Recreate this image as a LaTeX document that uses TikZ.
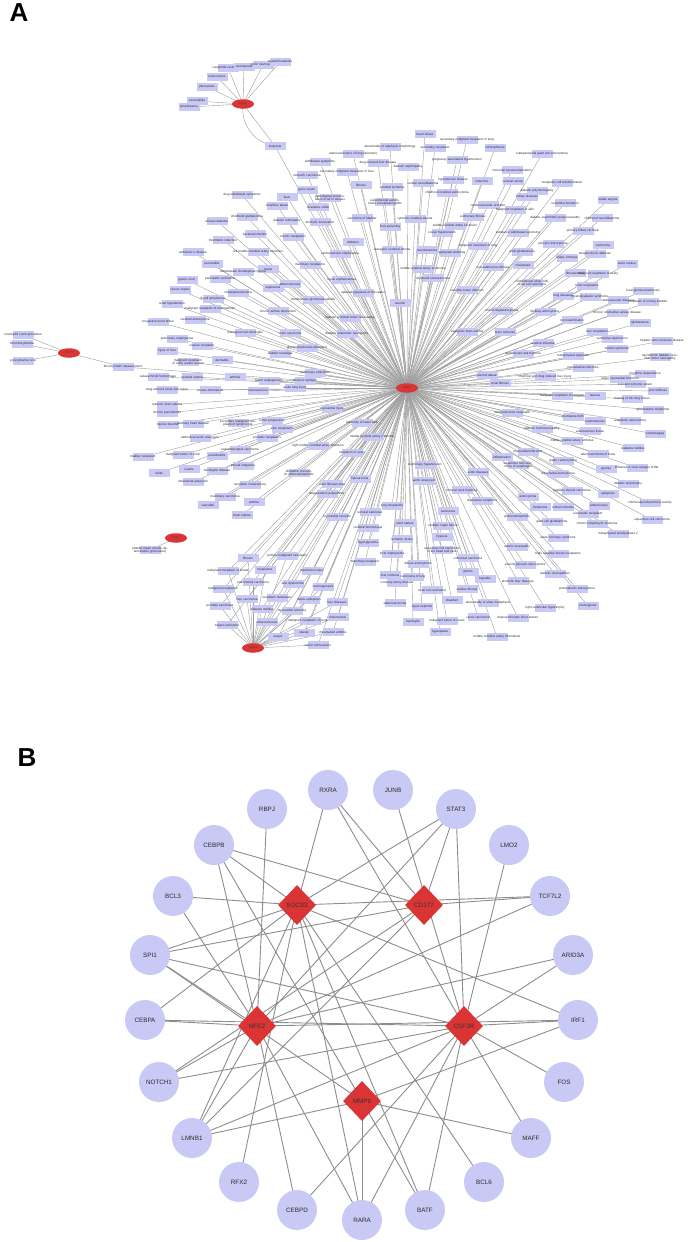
\documentclass[tikz,border=0pt]{standalone}
\usepackage{fontspec}
\setmainfont{Liberation Sans}
\usetikzlibrary{shapes.geometric,backgrounds}

\definecolor{nodefill}{RGB}{201,201,246}
\definecolor{hubred}{RGB}{218,52,52}
\definecolor{edgegray}{RGB}{140,140,140}
\definecolor{labelink}{RGB}{40,40,40}

\newcommand\mmplist{
  425/134/{heart failure}, 467/140/{secondary malignant neoplasm of lung}, 390/147/{abnormality of epiphysis morphology},
  435/148/{secondary neoplasm}, 353/154/{adenocarcinoma of lung (disorder)}, 495/148/{schizophrenia},
  378/163/{drug-induced liver disease}, 457/160/{pregnancy associated hypertension}, 320/162/{withdrawal symptoms},
  408/167/{diabetic nephropathy}, 347/172/{secondary malignant neoplasm of liver}, 307/175/{stomach carcinoma},
  361/185/{fibrosis}, 392/187/{cerebral ischemia}, 423/183/{central neuroblastoma}, 453/180/{hypertensive disease},
  482/181/{infarction}, 307/190/{genu varum}, 447/193/{childhood cerebral astrocytoma}, 242/195/{drug withdrawal symptoms},
  287/197/{ileus}, 330/198/{pathological accumulation of air in tissues},
  542/154/{subependymal giant cell astrocytoma}, 512/170/{choroidal neovascularization}, 513/181/{cervical cancer},
  562/183/{neoplastic cell transformation}, 537/191/{diabetic polyneuropathy}, 527/197/{kidney diseases},
  565/203/{neointima formation}, 608/200/{stable angina}, 488/205/{cerebrovascular accident},
  515/210/{malignant neoplasm of skin}, 473/217/{pulmonary fibrosis}, 555/218/{diabetic asymmetric polyneuropathy},
  602/218/{childhood neuroblastoma}, 455/226/{middle cerebral artery occlusion}, 583/231/{primary biliary cirrhosis},
  442/233/{ocular hypertension}, 518/233/{substance withdrawal syndrome}, 603/245/{carcinoma},
  553/244/{pilocytic astrocytoma}, 478/246/{malignant neoplasm of lung}, 595/254/{streptozotocin diabetes},
  450/253/{metaphyseal widening}, 522/252/{adult glioblastoma}, 567/258/{biliary cirrhosis}, 523/265/{cholestasis},
  627/264/{aortic rupture}, 493/267/{oral submucous fibrosis}, 423/269/{middle cerebral artery syndrome},
  433/278/{childhood osteosarcoma}, 575/273/{fibrosarcoma}, 598/274/{malignant neoplasm of ovary},
  532/283/{conventional (clear cell) renal cell carcinoma}, 587/286/{bone neoplasms}, 643/291/{focal glomerulosclerosis},
  467/290/{varicella zoster infection}, 563/296/{lung diseases}, 590/297/{myelodysplastic syndrome},
  618/300/{cardiovascular diseases}, 648/302/{neoplasm of urinary bladder}, 400/303/{neuritis},
  502/311/{mixed oligoastrocytoma}, 545/312/{fibrillary astrocytoma}, 617/313/{chronic obstructive airway disease},
  640/323/{glioblastoma}, 572/320/{microcalcification}, 597/332/{liver neoplasms}, 505/332/{brain ischemia},
  467/332/{vasogenic brain edema}, 662/341/{hepatic veno-occlusive disease}, 612/339/{ventricular dysfunction},
  543/343/{cerebral infarction}, 617/349/{marfan syndrome}, 523/354/{gemistocytic astrocytoma},
  573/356/{metaphyseal dysplasia}, 660/357/{asymmetric diabetic proximal motor neuropathy}, 583/368/{mycoplasma infections},
  385/202/{experimental autoimmune encephalomyelitis}, 362/218/{carcinoma of bladder}, 390/227/{food poisoning},
  415/219/{cytotoxic cerebral edema}, 392/250/{vasogenic cerebral edema}, 427/250/{neuroblastoma},
  277/206/{morphine abuse}, 318/207/{ulcerative colitis}, 217/221/{alloxan diabetes}, 247/217/{childhood glioblastoma},
  287/221/{diabetic retinopathy}, 320/222/{alcoholic intoxication}, 255/234/{bacterial infection}, 293/237/{colonic neoplasms},
  223/240/{thrombotic infarction}, 193/252/{alzheimer's disease}, 258/252/{left middle cerebral artery infarction},
  212/264/{pericarditis}, 310/265/{mammary neoplasms}, 268/269/{mania}, 243/272/{extrahepatic cholangiocarcinoma},
  187/280/{gastric ulcer}, 220/279/{pancreatic carcinoma}, 273/288/{septicemia}, 290/284/{atherosclerosis},
  180/290/{severe sepsis}, 238/293/{cholangiocarcinoma}, 313/300/{membranous glomerulonephritis},
  172/304/{renal hypertension}, 213/299/{B-cell lymphomas}, 210/309/{malignant neoplasm of endometrium},
  278/311/{chronic airflow obstruction}, 158/322/{congestive heart failure}, 195/320/{cerebral astrocytoma},
  245/333/{meningococcal meningitis}, 290/333/{colon carcinoma}, 177/339/{pulmonary emphysema},
  202/346/{ovarian neoplasm}, 167/351/{injury of liver}, 307/348/{glomerulosclerosis (disorder)},
  280/354/{diabetic neuralgia}, 188/362/{malignant neoplasm of colon and/or rectum}, 222/360/{dermatitis},
  315/373/{pulmonary embolism}, 158/377/{subarachnoid hemorrhage}, 192/377/{cerebral edema}, 235/377/{arthritis},
  269/381/{tumor angiogenesis}, 305/381/{absence epilepsy}, 167/390/{drug-induced acute liver injury},
  210/390/{venous thrombosis}, 258/391/{osteosarcoma}, 295/388/{acute lung injury}, 167/405/{cytotoxic brain edema},
  340/254/{cardiovascular emphysema}, 353/242/{diabetes}, 342/280/{lupus erythematosus},
  363/293/{aplasia/hypoplasia of the radius}, 350/318/{diabetic proximal motor neuropathy},
  347/334/{diabetic autonomic neuropathy},
  167/413/{chronic periodontitis}, 168/425/{bipolar disorder}, 193/424/{coronary heart disease},
  238/423/{secondary malignant neoplasm of lymph node}, 272/421/{tumor progression}, 282/429/{skin neoplasms},
  200/438/{abdominal aortic aneurysm}, 267/438/{prostatic neoplasms}, 332/409/{myocardial injury},
  240/450/{nasopharyngeal carcinoma}, 143/457/{bladder neoplasm}, 183/455/{malignant tumor of colon},
  217/456/{periodontitis}, 318/446/{right middle cerebral artery infarction}, 159/473/{colitis}, 189/469/{uveitis},
  217/471/{huntington disease}, 243/466/{pleural empyema}, 299/473/{idiopathic crescentic glomerulonephritis},
  193/482/{intracranial aneurysm}, 250/485/{neoplasm invasiveness}, 332/484/{adult fibrosarcoma},
  327/494/{degenerative polyarthritis}, 225/497/{mammary carcinoma}, 208/505/{vasculitis}, 254/502/{asthma},
  242/515/{brain edema}, 337/517/{myocardial necrosis},
  545/377/{chemical and drug induced liver injury}, 645/374/{morphine dependence}, 620/379/{acute myocardial infarction},
  635/384/{transient ischemic attack}, 658/391/{joint stiffness}, 500/383/{renal fibrosis}, 487/375/{alcohol abuse},
  562/396/{malignant neoplasm of stomach}, 595/396/{tetanus}, 632/399/{bowing of the long bones},
  653/410/{glioblastoma multiforme}, 512/413/{malignant bone neoplasm}, 573/417/{premature birth},
  595/421/{endometriosis}, 630/421/{anaplastic astrocytoma}, 542/429/{diabetic mononeuropathy},
  590/431/{arteriovenous fistula}, 655/434/{cardiomegaly}, 572/441/{middle cerebral artery embolus},
  633/448/{diabetes mellitus}, 598/454/{adenocarcinoma of bone}, 528/452/{myocardial infarction},
  502/457/{inflammation}, 518/465/{squamous cell carcinoma of esophagus}, 563/461/{grade I astrocytoma},
  606/469/{pyemia}, 637/468/{influenza A virus subtype H1N1}, 558/474/{intracranial astrocytoma},
  628/484/{diabetic amyotrophy}, 425/465/{pulmonary hypertension}, 424/481/{aortic aneurysm},
  478/472/{aortic diseases}, 572/491/{papillary thyroid carcinoma}, 608/494/{epilepsies},
  650/503/{chemically-induced liver toxicity}, 528/497/{astrocytoma}, 462/490/{femoral neck fractures},
  482/501/{depressive symptoms}, 599/506/{arterial injury}, 540/507/{melanoma}, 563/507/{retinal ischemia},
  588/514/{pancreatic neoplasm}, 392/506/{lung neoplasms}, 448/511/{carcinoma}, 517/517/{glomerulonephritis},
  552/522/{giant cell glioblastoma}, 597/524/{chronic lymphocytic leukemia}, 652/520/{squamous cell carcinoma},
  405/523/{short stature}, 443/526/{multiple organ failure}, 618/534/{metaphyseal anadysplasia 2},
  442/537/{hypoxia}, 402/539/{ischemic stroke}, 558/538/{acute coronary syndrome},
  442/550/{squamous cell carcinoma of the head and neck}, 368/543/{hyperglycemia}, 392/554/{focal emphysema},
  517/547/{uremic neuropathy}, 558/554/{triple negative breast neoplasms}, 468/558/{colorectal carcinoma},
  365/562/{mammary neoplasm}, 418/564/{diffuse astrocytoma}, 525/565/{juvenile pilocytic astrocytoma},
  468/572/{glioma}, 555/574/{diabetic neuropathies}, 390/575/{liver cirrhosis}, 413/577/{carcinoma of lung},
  397/583/{coronary artery disease}, 485/579/{hepatitis}, 518/581/{alcoholic liver diseases},
  577/589/{protoplasmic astrocytoma}, 467/589/{cardiac fibrosis}, 432/590/{renal cell carcinoma},
  395/603/{adenocarcinoma}, 452/600/{dwarfism}, 488/603/{abnormality of ulnar metaphysis},
  422/607/{lupus nephritis}, 545/608/{right ventricular hypertrophy}, 588/606/{meningioma},
  413/622/{meningitis}, 447/621/{malignant tumor of cervix}, 478/617/{cervix carcinoma},
  518/618/{disproportionate short stature}, 440/632/{hyperplasia}, 497/637/{middle cerebral artery thrombosis},
  362/423/{deformity of lower limb}, 372/437/{middle cerebral artery infarction}, 352/453/{neoplasm of ovary},
  360/479/{liposarcoma}, 370/512/{tumoral calcinosis}, 368/528/{cerebral hemorrhage}
}

\newcommand\socslist{
  248/558/{fibrosis}, 287/556/{primary malignant neoplasm}, 228/571/{malignant neoplasm of breast},
  265/570/{neoplasms}, 312/571/{reperfusion injury}, 253/582/{endometrial carcinoma},
  223/589/{malignant neoplasms}, 293/584/{liver dysfunction}, 323/587/{carcinogenesis},
  247/599/{liver carcinoma}, 277/598/{neoplasm metastasis}, 309/600/{status epilepticus},
  337/602/{liver diseases}, 220/606/{prostate carcinoma}, 262/609/{diabetes mellitus},
  292/611/{myocardial ischemia}, 310/621/{malignant neoplasm of prostate}, 227/625/{breast carcinoma},
  267/622/{atherosclerosis}, 338/617/{tuberculosis}, 333/632/{rheumatoid arthritis},
  304/633/{obesity}, 278/637/{sepsis}, 318/645/{tumor cell invasion}
}

\newcommand\csflist{
  217/77/{leukocytosis}, 207/87/{pleocytosis}, 197/101/{neutrophilia}, 189/107/{lymphopenia},
  228/68/{congenital neutropenia}, 244/67/{neutropenia}, 263/65/{cyclic neutropenia}, 280/62/{myeloid leukemia}
}

\newcommand\cdlist{
  23/335/{eosinophil count procedure}, 22/344/{thrombocythemia}, 23/361/{polycythemia vera}
}

\begin{document}
\begin{tikzpicture}[
  x=1pt, y=-1pt,
  disease/.style={rectangle, fill=nodefill, minimum width=21pt, minimum height=8.5pt, inner sep=0pt},
  distext/.style={font=\fontsize{3.1}{3.6}\selectfont, text=labelink, align=center, text width=54pt, inner sep=0pt},
  hubA/.style={ellipse, fill=hubred, minimum width=22pt, minimum height=9.5pt, inner sep=0pt,
    font=\fontsize{2.6}{3}\selectfont, text=black!75},
  alink/.style={draw=edgegray!85, line width=0.4pt},
  gene/.style={circle, fill=nodefill, minimum size=40pt, inner sep=0pt,
    font=\fontsize{6.3}{7}\selectfont, text=labelink},
  target/.style={diamond, fill=hubred, minimum width=38pt, minimum height=40pt, inner sep=0pt,
    label={[font=\fontsize{6.3}{7}\selectfont, text=black!80]center:#1}},
  blink/.style={draw=edgegray, line width=0.9pt},
  panel/.style={font=\fontsize{26}{26}\selectfont\bfseries}
]
  \path[use as bounding box] (0,0) rectangle (690,1242);

  \node[panel] (labA) at (19,13) {A};
  \node[panel] (labB) at (27,758) {B};

  \node[hubA] (hmmp) at (407,388) {MMP9};
  \node[hubA] (hsocs) at (253,648) {SOCS3};
  \node[hubA] (hcsf) at (243,104) {CSF3R};
  \node[hubA] (hcd) at (69,353) {CD177};
  \node[hubA] (hnfe) at (176,538) {NFE2};

  \foreach \xx/\yy/\txt [count=\i] in \mmplist
    \node[disease, label={[distext]center:\txt}] (dA\i) at (\xx,\yy) {};
  \foreach \xx/\yy/\txt [count=\i] in \socslist
    \node[disease, label={[distext]center:\txt}] (dS\i) at (\xx,\yy) {};
  \foreach \xx/\yy/\txt [count=\i] in \csflist
    \node[disease, label={[distext]center:\txt}] (dC\i) at (\xx,\yy) {};
  \foreach \xx/\yy/\txt [count=\i] in \cdlist
    \node[disease, label={[distext]center:\txt}] (dD\i) at (\xx,\yy) {};

  \node[disease, label={[distext]center:leukemia}] (leuk) at (275,146) {};
  \node[disease, label={[distext]center:blood protein measurement}] (bprot) at (123,367) {};
  \node[disease, label={[distext, text width=48pt]center:platelet mean volume determination (procedure)}] (plt) at (150,550) {};

  \begin{scope}[on background layer]
    \foreach \xx/\yy/\txt [count=\i] in \mmplist
      \draw[alink] (dA\i.center) -- (hmmp.center);
    \foreach \xx/\yy/\txt [count=\i] in \socslist {
      \draw[alink] (dS\i.center) -- (hsocs.center);
      \draw[alink] (dS\i.center) -- (hmmp.center);
    }
    \foreach \xx/\yy/\txt [count=\i] in \csflist
      \draw[alink] (dC\i.center) -- (hcsf.center);
    \foreach \xx/\yy/\txt [count=\i] in \cdlist
      \draw[alink] (dD\i.center) -- (hcd.center);
    \draw[alink] (hcsf.center) -- (leuk.center);
    \draw[alink] (hcsf.center) to[bend right=45] (leuk.center);
    \draw[alink] (leuk.center) -- (hmmp.center);
    \draw[alink] (hcd.center) -- (bprot.center);
    \draw[alink] (bprot.center) -- (hmmp.center);
    \draw[alink] (hnfe.center) -- (plt.center);
  \end{scope}

  \node[gene] (rbpj) at (267,809) {RBPJ};
  \node[gene] (rxra) at (328,790) {RXRA};
  \node[gene] (junb) at (393,790) {JUNB};
  \node[gene] (stat) at (456,809) {STAT3};
  \node[gene] (cebpb) at (214,845) {CEBPB};
  \node[gene] (lmo) at (509,845) {LMO2};
  \node[gene] (bcl3) at (173,896) {BCL3};
  \node[gene] (tcf) at (550,896) {TCF7L2};
  \node[gene] (spi) at (150,955) {SPI1};
  \node[gene] (arid) at (573,955) {ARID3A};
  \node[gene] (cebpa) at (145,1020) {CEBPA};
  \node[gene] (irf) at (578,1020) {IRF1};
  \node[gene] (notch) at (159,1082) {NOTCH1};
  \node[gene] (fos) at (564,1082) {FOS};
  \node[gene] (lmnb) at (192,1138) {LMNB1};
  \node[gene] (maff) at (531,1138) {MAFF};
  \node[gene] (rfx) at (239,1182) {RFX2};
  \node[gene] (bcl6) at (484,1182) {BCL6};
  \node[gene] (cebpd) at (297,1210) {CEBPD};
  \node[gene] (rara) at (362,1220) {RARA};
  \node[gene] (batf) at (425,1210) {BATF};

  \node[target=SOCS3] (socs) at (297,905) {};
  \node[target=CD177] (cd) at (424,905) {};
  \node[target=NFE2] (nfe) at (257,1026) {};
  \node[target=CSF3R] (csf) at (464,1026) {};
  \node[target=MMP9] (mmp) at (362,1101) {};

  \begin{scope}[on background layer]
    \foreach \a/\b in {socs/rxra, socs/stat, socs/cebpb, socs/bcl3, socs/spi, socs/cebpa, socs/irf,
      socs/bcl6, socs/lmnb, socs/rfx, socs/rara, socs/tcf, socs/batf,
      cd/rxra, cd/stat, cd/cebpb, cd/tcf, cd/spi, cd/notch, cd/lmnb,
      nfe/rbpj, nfe/cebpb, nfe/bcl3, nfe/stat, nfe/tcf, nfe/spi, nfe/arid, nfe/cebpa, nfe/irf,
      nfe/notch, nfe/lmnb, nfe/cebpd, nfe/rara,
      csf/rxra, csf/junb, csf/stat, csf/lmo, csf/spi, csf/arid, csf/cebpa, csf/irf, csf/fos,
      csf/notch, csf/lmnb, csf/cebpd, csf/rara, csf/batf, csf/maff,
      mmp/cebpb, mmp/spi, mmp/irf, mmp/lmnb, mmp/maff, mmp/rara, mmp/batf}
      \draw[blink] (\a.center) -- (\b.center);
  \end{scope}
\end{tikzpicture}
\end{document}
